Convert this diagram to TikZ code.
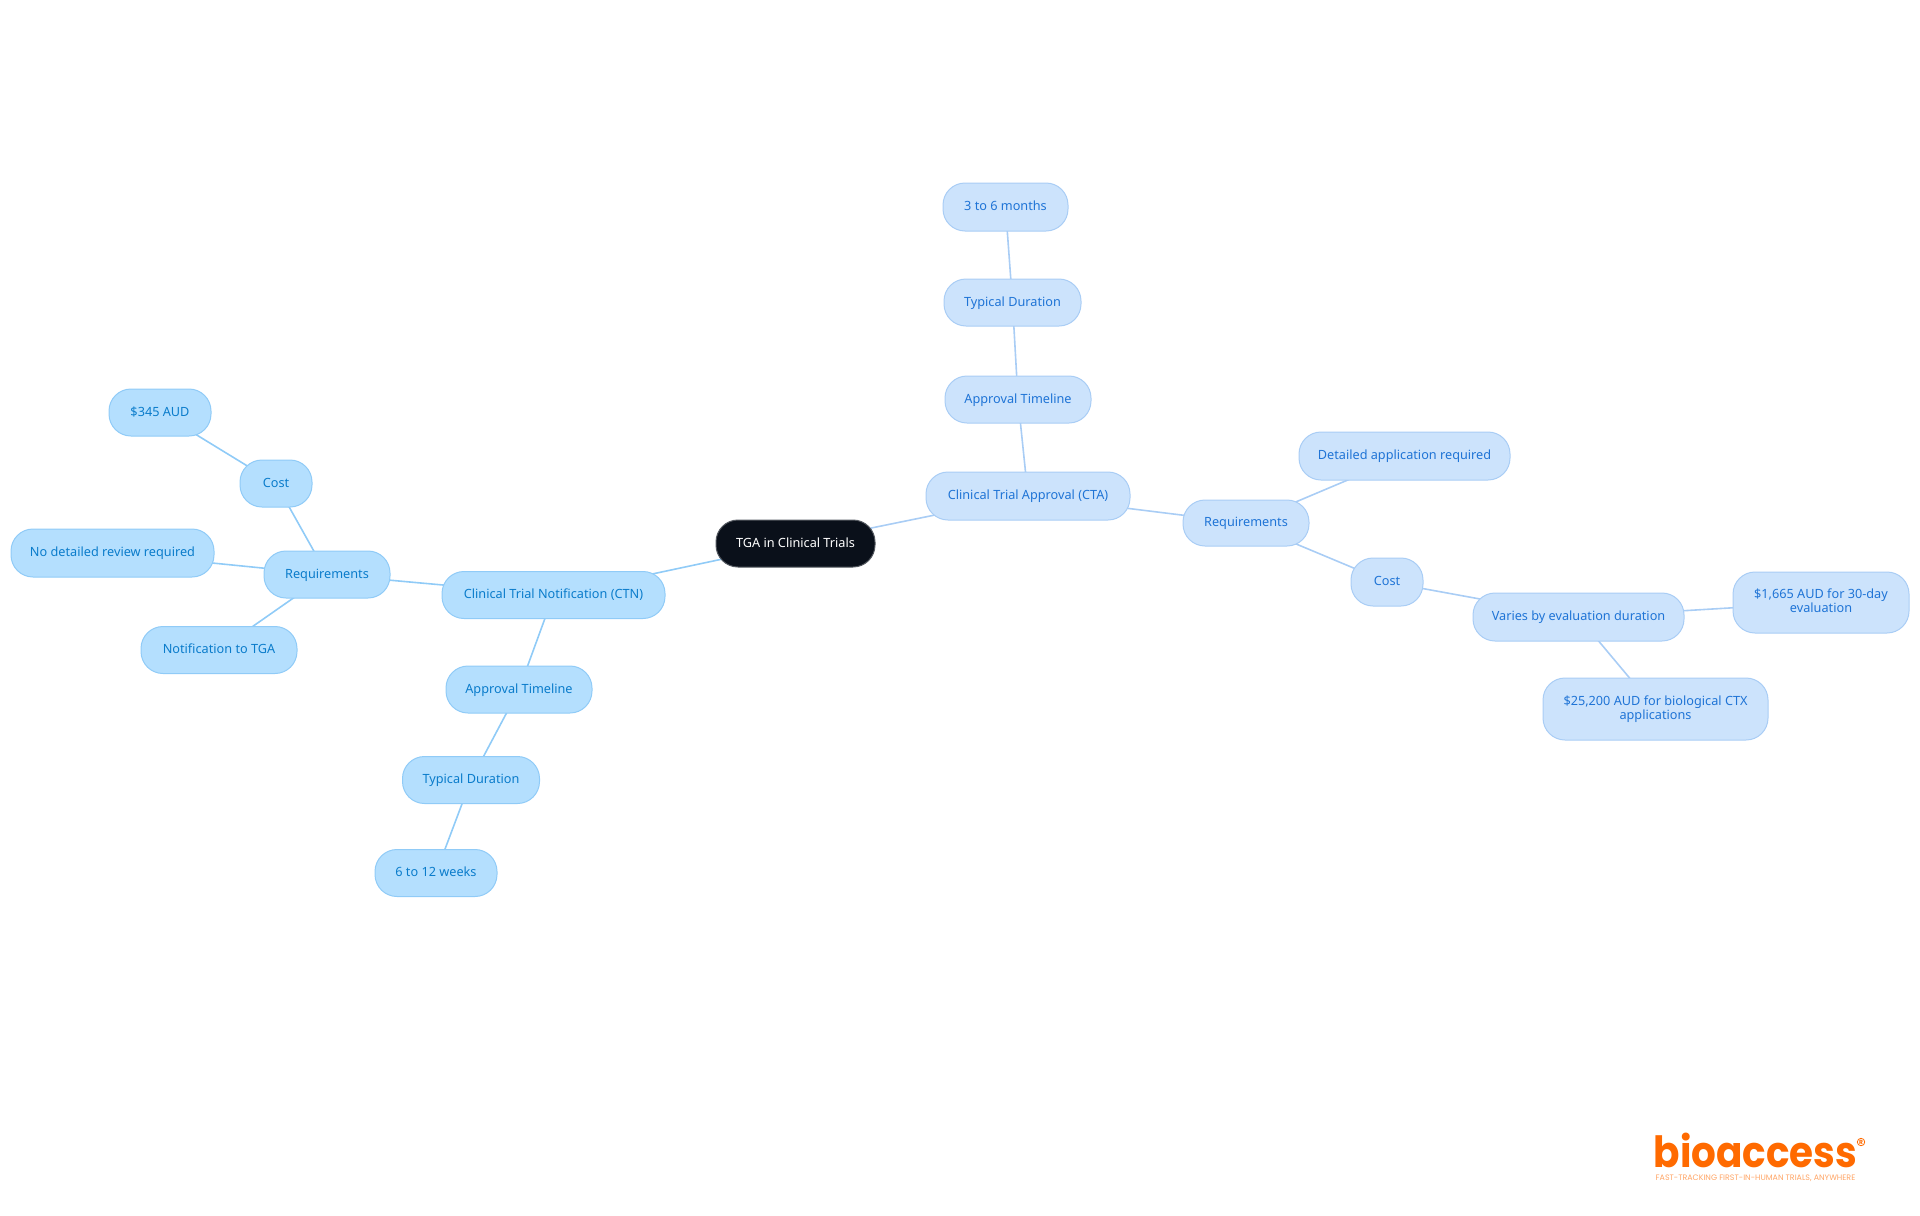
\documentclass[tikz,border=0pt]{standalone}
\usepackage{fontspec}
\setmainfont{Noto Sans}
\newfontfamily\logofont{Poppins}
\usetikzlibrary{backgrounds}
\definecolor{ctaFill}{HTML}{CCE3FC}
\definecolor{ctaDraw}{HTML}{A9CDF5}
\definecolor{ctaText}{HTML}{1F74D6}
\definecolor{ctnFill}{HTML}{B4DFFE}
\definecolor{ctnDraw}{HTML}{90CBF7}
\definecolor{ctnText}{HTML}{0A7CCB}
\definecolor{rootFill}{HTML}{0A101A}
\definecolor{logoOrange}{HTML}{FF6A00}
\tikzstyle{mind}=[rounded corners=11pt,
                  inner sep=0pt,
                  line width=0.5pt,
                  align=center,
                  execute at begin node={\rule{0pt}{5.4pt}},
                  execute at end node={\rule[-1.6pt]{0pt}{1.6pt}},
                  font=\fontsize{6.35}{7}\selectfont]
\tikzstyle{cta}=[mind,draw=ctaDraw,fill=ctaFill,text=ctaText]
\tikzstyle{ctn}=[mind,draw=ctnDraw,fill=ctnFill,text=ctnText]
\tikzstyle{root}=[mind,draw=rootFill!70,fill=rootFill,text=white]
\tikzstyle{ctaline}=[line width=0.8pt,draw=ctaDraw]
\tikzstyle{ctnline}=[line width=0.8pt,draw=ctnDraw]
\begin{document}
\begin{tikzpicture}[x=0.5pt,y=-0.5pt]
    \useasboundingbox (0,0) rectangle (1920,1215);
    \node[root, minimum width=79.5pt, minimum height=23.5pt] (tga) at (795.5,543.5) {TGA in Clinical Trials};
    % right branch
    \node[cta, minimum width=102pt, minimum height=24pt] (cta) at (1028,496) {Clinical Trial Approval (CTA)};
    \node[cta, minimum width=73pt, minimum height=23.5pt] (ctaApproval) at (1018,399.5) {Approval Timeline};
    \node[cta, minimum width=68.5pt, minimum height=23.5pt] (ctaTypical) at (1012.5,302.5) {Typical Duration};
    \node[cta, minimum width=62.5pt, minimum height=24pt] (ctaMonths) at (1005.5,207) {3 to 6 months};
    \node[cta, minimum width=63pt, minimum height=23pt] (ctaReq) at (1246,523) {Requirements};
    \node[cta, minimum width=105.5pt, minimum height=24pt] (ctaDetail) at (1404.5,456) {Detailed application required};
    \node[cta, minimum width=36pt, minimum height=24pt] (ctaCost) at (1387,582) {Cost};
    \node[cta, minimum width=105.5pt, minimum height=24pt] (ctaVaries) at (1578.5,617) {Varies by evaluation duration};
    \node[cta, minimum width=88pt, minimum height=30.5pt] (ctaThirty) at (1821,602.5) {\$1,665 AUD for 30-day\\evaluation};
    \node[cta, minimum width=112.5pt, minimum height=31pt] (ctaBio) at (1655.5,709) {\$25,200 AUD for biological CTX\\applications};
    % left branch
    \node[ctn, minimum width=111.5pt, minimum height=23.5pt] (ctn) at (553.5,595) {Clinical Trial Notification (CTN)};
    \node[ctn, minimum width=63pt, minimum height=23.5pt] (ctnReq) at (327,574.5) {Requirements};
    \node[ctn, minimum width=36pt, minimum height=23.5pt] (ctnCost) at (276,483.5) {Cost};
    \node[ctn, minimum width=51pt, minimum height=23.5pt] (ctnFee) at (160,412.5) {\$345 AUD};
    \node[ctn, minimum width=101.5pt, minimum height=24pt] (ctnReview) at (112.5,553) {No detailed review required};
    \node[ctn, minimum width=78pt, minimum height=23.5pt] (ctnNotice) at (219,650) {Notification to TGA};
    \node[ctn, minimum width=73pt, minimum height=23.5pt] (ctnApproval) at (519,689.5) {Approval Timeline};
    \node[ctn, minimum width=68.5pt, minimum height=23.5pt] (ctnTypical) at (471,780) {Typical Duration};
    \node[ctn, minimum width=61pt, minimum height=23.5pt] (ctnWeeks) at (436,873) {6 to 12 weeks};
    \begin{pgfonlayer}{background}
        \foreach \a/\b in {tga/cta,cta/ctaApproval,ctaApproval/ctaTypical,ctaTypical/ctaMonths,cta/ctaReq,ctaReq/ctaDetail,ctaReq/ctaCost,ctaCost/ctaVaries,ctaVaries/ctaThirty,ctaVaries/ctaBio}
            \draw[ctaline] (\a.center) -- (\b.center);
        \foreach \a/\b in {tga/ctn,ctn/ctnReq,ctnReq/ctnCost,ctnCost/ctnFee,ctnReq/ctnReview,ctnReq/ctnNotice,ctn/ctnApproval,ctnApproval/ctnTypical,ctnTypical/ctnWeeks}
            \draw[ctnline] (\a.center) -- (\b.center);
    \end{pgfonlayer}
    % logo
    \node[inner sep=0pt, xscale=0.905, text=logoOrange, font=\logofont\fontsize{21.5}{22}\selectfont\bfseries] (logo) at (1755.5,1150) {bioaccess};
    \node[inner sep=0pt, text=logoOrange!60, font=\logofont\fontsize{3.95}{4}\selectfont] (tagline) at (1755.5,1178) {FAST-TRACKING FIRST-IN-HUMAN TRIALS, ANYWHERE};
    \node[inner sep=0.3pt, circle, draw=logoOrange, line width=0.4pt, text=logoOrange, font=\logofont\fontsize{3}{3}\selectfont\bfseries] (mark) at (1861,1142) {R};
\end{tikzpicture}
\end{document}
